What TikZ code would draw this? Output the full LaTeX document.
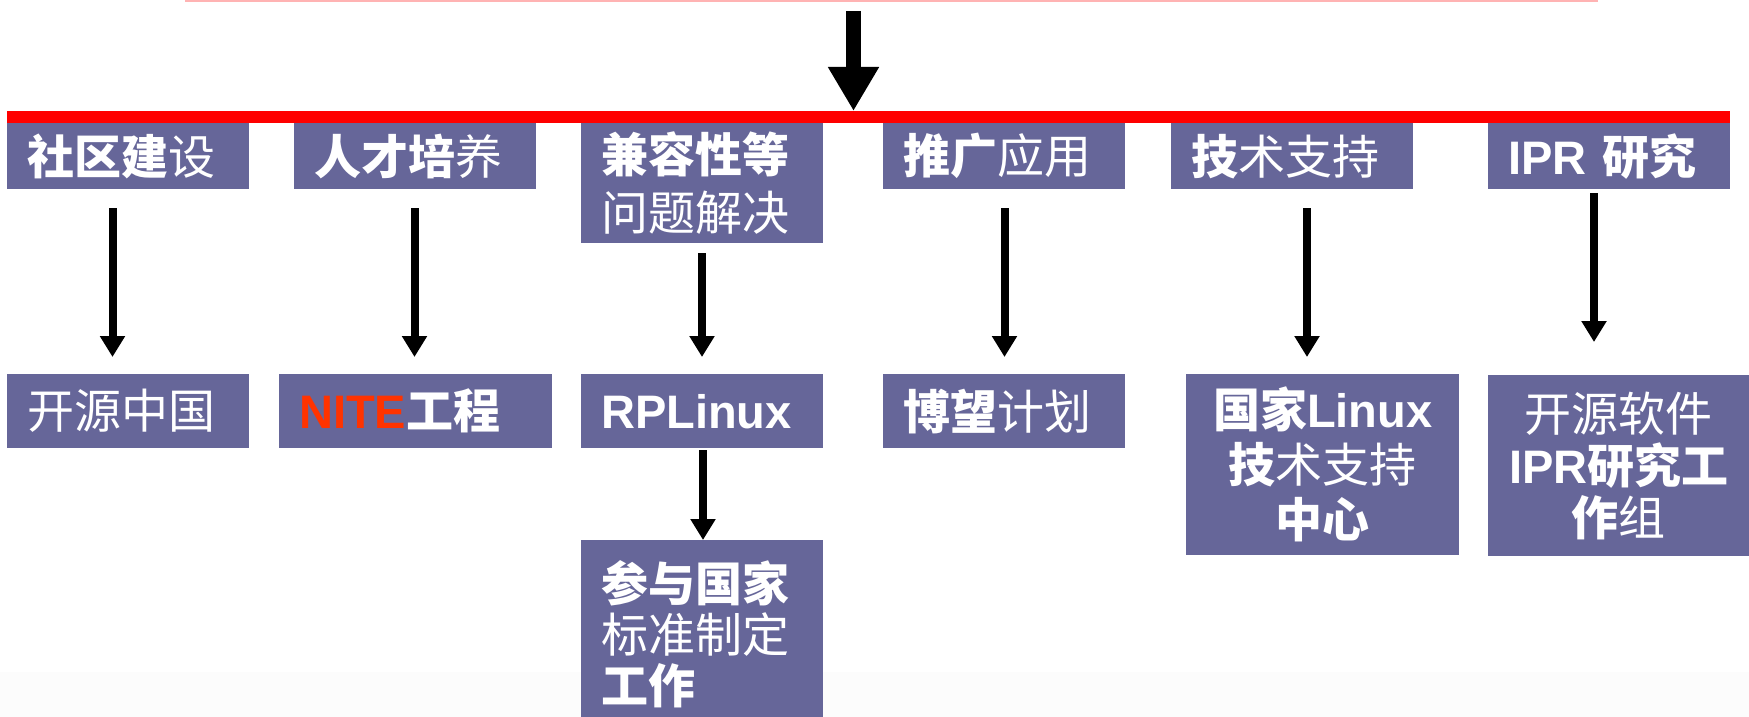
\documentclass[tikz,border=0pt]{standalone}
\usepackage{fontspec}
\setmainfont{Liberation Sans}
\newfontfamily\zhfont{Noto Sans CJK SC}
\usetikzlibrary{arrows.meta}
\definecolor{boxc}{HTML}{666699}
\definecolor{nitec}{HTML}{FF3300}
\definecolor{pinkc}{HTML}{FFB3B3}
\definecolor{barc}{HTML}{FF0000}
\definecolor{footc}{HTML}{FCFCFC}
\newcommand\zb[1]{{\zhfont\bfseries #1}}
\newcommand\zr[1]{{\zhfont\mdseries #1}}
\newcommand\eb[1]{{\bfseries #1}}
\tikzset{
  box/.style={fill=boxc, text=white, inner ysep=0pt, inner xsep=20pt,
    anchor=north west, align=left, font=\fontsize{47}{55}\selectfont},
  cbox/.style={box, inner xsep=10pt, align=center},
  arr/.style={line width=8pt, -{Triangle[length=21pt,width=24pt]}},
  bigarr/.style={line width=15pt, -{Triangle[length=44pt,width=48pt]}},
}
\begin{document}
\begin{tikzpicture}[x=1pt,y=-1pt]
\useasboundingbox (0,0) rectangle (1749,717);
\clip (0,0) rectangle (1749,717);
\fill[footc] (0,672) rectangle (1749,717);
% top pink line
\draw[pinkc, line width=2pt] (185,1) -- (1598,1);
% red bar
\node[fill=barc, inner sep=0pt, minimum width=1723pt, minimum height=12pt, anchor=north west] (bar) at (7,111) {};
% big arrow
\coordinate (topin) at (853.5,11);
\draw[bigarr] (topin) -- (topin |- bar.north);

% top row boxes
\node[box, text width=202pt, minimum height=66pt] (b1) at (7,123) {\zb{社区建}\zr{设}};
\node[box, text width=202pt, minimum height=66pt] (b2) at (294,123) {\zb{人才培}\zr{养}};
\node[box, text width=202pt, minimum height=120pt, font=\fontsize{47}{58}\selectfont] (b3) at (581,123) {\zb{兼容性等}\\\zr{问题解决}};
\node[box, text width=202pt, minimum height=66pt] (b4) at (883,123) {\zb{推广}\zr{应用}};
\node[box, text width=202pt, minimum height=66pt] (b5) at (1171,123) {\zb{技}\zr{术支持}};
\node[box, text width=202pt, minimum height=66pt] (b6) at (1488,123) {\eb{IPR} \zb{研究}};

% bottom row boxes
\node[box, text width=202pt, minimum height=74pt] (c1) at (7,374) {\zr{开源中国}};
\node[box, text width=233pt, minimum height=74pt] (c2) at (279,374) {\eb{\textcolor{nitec}{NITE}}\zb{工程}};
\node[box, text width=202pt, minimum height=74pt] (c3) at (581,374) {\eb{RPLinux}};
\node[box, text width=202pt, minimum height=74pt] (c4) at (883,374) {\zb{博望}\zr{计划}};
\node[cbox, text width=253pt, minimum height=181pt] (c5) at (1186,374) {\zb{国家}\eb{Linux}\\\zb{技}\zr{术支持}\\\zb{中心}};
\node[cbox, text width=241pt, minimum height=181pt, font=\fontsize{47}{52}\selectfont] (c6) at (1488,375) {\zr{开源软件}\\\eb{IPR}\zb{研究工}\\\zb{作}\zr{组}};
\node[box, text width=202pt, minimum height=189pt, font=\fontsize{47}{51}\selectfont] (d3) at (581,540) {\zb{参与国家}\\\zr{标准制定}\\\zb{工作}};

% arrows
\coordinate (s1) at (112.5,208); \coordinate (e1) at (112.5,357);
\coordinate (s2) at (414.5,208); \coordinate (e2) at (414.5,357);
\coordinate (s3) at (702,253);   \coordinate (e3) at (702,357);
\coordinate (s4) at (1004.5,208); \coordinate (e4) at (1004.5,357);
\coordinate (s5) at (1307,208);  \coordinate (e5) at (1307,357);
\coordinate (s6) at (1594,193);  \coordinate (e6) at (1594,342);
\coordinate (s7) at (703,450);   \coordinate (e7) at (703,540);
\draw[arr] (s1) -- (e1);
\draw[arr] (s2) -- (e2);
\draw[arr] (s3) -- (e3);
\draw[arr] (s4) -- (e4);
\draw[arr] (s5) -- (e5);
\draw[arr] (s6) -- (e6);
\draw[arr] (s7) -- (e7);
\end{tikzpicture}
\end{document}
